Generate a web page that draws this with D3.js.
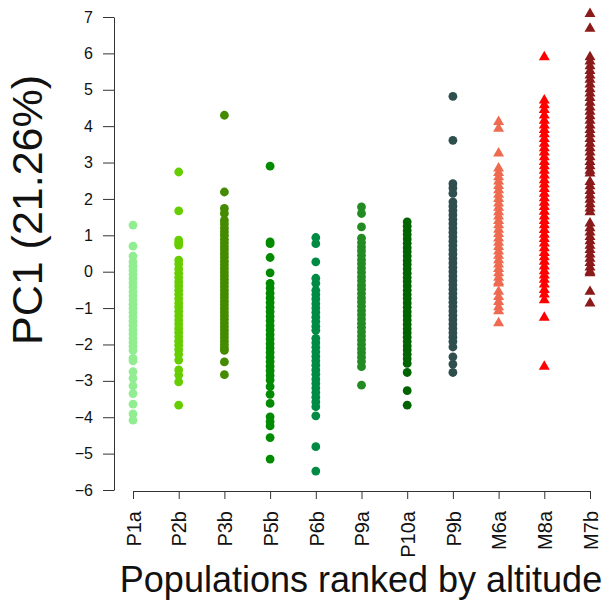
<!DOCTYPE html>
<html>
<head>
<meta charset="utf-8">
<script src="https://cdn.jsdelivr.net/npm/d3@7"></script>
<style>
  html, body { margin: 0; padding: 0; background: #fff; }
  svg { display: block; font-family: "Liberation Sans", Arial, Helvetica, sans-serif; }
</style>
</head>
<body>
<svg id="chart" width="606" height="600"></svg>
<script>
// ---- Data ----
const categories = ["P1a","P2b","P3b","P5b","P6b","P9a","P10a","P9b","M6a","M8a","M7b"];
const colors = ["#90EE90","#66CD00","#458B00","#008B00","#008B45","#228B22","#006400","#2F4F4F","#EE6A50","#FF0000","#8B1A1A"];
const shapes = ["circle","circle","circle","circle","circle","circle","circle","circle","triangle","triangle","triangle"];
const yTicks = [7,6,5,4,3,2,1,0,-1,-2,-3,-4,-5,-6];

const P1a = [1.28,0.70,0.43,0.27,0.15,0.04,-0.08,-0.19,-0.31,-0.42,-0.55,-0.66,-0.78,-0.9,-1.01,-1.12,-1.24,-1.36,-1.47,-1.6,-1.71,-1.83,-1.94,-2.05,-2.16,-2.38,-2.45,-2.75,-2.93,-3.14,-3.35,-3.64,-3.91,-4.08];
const P2b = [2.74,1.67,0.87,0.80,0.73,0.32,0.21,0.08,-0.04,-0.16,-0.28,-0.39,-0.51,-0.62,-0.74,-0.86,-0.97,-1.09,-1.21,-1.33,-1.44,-1.56,-1.67,-1.79,-1.91,-2.02,-2.14,-2.27,-2.43,-2.70,-2.84,-3.03,-3.67];
const P3b = [4.30,2.19,1.74,1.60,1.41,1.31,1.2,1.1,1.0,0.89,0.79,0.69,0.6,0.5,0.4,0.29,0.19,0.09,-0.01,-0.11,-0.21,-0.31,-0.41,-0.51,-0.61,-0.71,-0.81,-0.91,-1.01,-1.11,-1.21,-1.31,-1.41,-1.51,-1.61,-1.71,-1.81,-1.91,-2.01,-2.1,-2.16,-2.48,-2.83];
const P5b = [2.90,0.82,0.77,0.39,-0.03,-0.32,-0.45,-0.59,-0.72,-0.85,-0.98,-1.1,-1.23,-1.35,-1.48,-1.6,-1.73,-1.85,-1.98,-2.1,-2.22,-2.35,-2.47,-2.6,-2.72,-2.85,-2.98,-3.16,-3.37,-3.62,-3.99,-4.12,-4.24,-4.56,-5.15];
const P6b = [0.94,0.77,0.27,-0.18,-0.32,-0.51,-0.63,-0.75,-0.88,-1.0,-1.12,-1.25,-1.37,-1.5,-1.61,-1.83,-1.95,-2.08,-2.2,-2.33,-2.45,-2.57,-2.7,-2.82,-2.95,-3.07,-3.2,-3.32,-3.45,-3.58,-3.71,-3.96,-4.81,-5.48];
const P9a = [1.78,1.60,1.23,0.92,0.8,0.68,0.57,0.45,0.33,0.22,0.1,-0.02,-0.14,-0.25,-0.37,-0.48,-0.6,-0.72,-0.83,-0.95,-1.07,-1.18,-1.3,-1.42,-1.53,-1.65,-1.77,-1.88,-2.0,-2.12,-2.23,-2.35,-2.47,-2.61,-3.12];
const P10a = [1.37,1.25,1.13,1.02,0.9,0.78,0.66,0.55,0.43,0.31,0.2,0.08,-0.04,-0.16,-0.27,-0.39,-0.51,-0.63,-0.74,-0.86,-0.98,-1.1,-1.21,-1.33,-1.45,-1.57,-1.68,-1.8,-1.92,-2.04,-2.15,-2.27,-2.39,-2.52,-2.77,-3.27,-3.67];
const P9b = [4.82,3.61,2.42,2.30,2.15,1.92,1.8,1.68,1.56,1.44,1.32,1.2,1.08,0.96,0.84,0.72,0.6,0.48,0.36,0.24,0.12,0.0,-0.12,-0.24,-0.36,-0.48,-0.6,-0.72,-0.84,-0.96,-1.08,-1.2,-1.32,-1.44,-1.56,-1.68,-1.8,-1.92,-2.07,-2.34,-2.54,-2.77];
const M6a = [4.12,3.93,3.25,2.84,2.72,2.6,2.48,2.36,2.24,2.12,2.0,1.88,1.76,1.64,1.52,1.4,1.28,1.16,1.04,0.92,0.8,0.68,0.56,0.44,0.32,0.2,0.08,-0.04,-0.16,-0.28,-0.32,-0.55,-0.69,-0.83,-0.97,-1.08,-1.41];
const M8a = [5.90,4.71,4.58,4.45,4.30,4.15,4.02,3.9,3.78,3.65,3.52,3.4,3.28,3.15,3.02,2.9,2.78,2.65,2.52,2.4,2.28,2.15,2.02,1.9,1.78,1.65,1.52,1.4,1.28,1.15,1.02,0.9,0.78,0.65,0.52,0.4,0.28,0.15,0.02,-0.1,-0.22,-0.35,-0.5,-0.62,-0.78,-1.26,-2.61];
const M7b = [7.09,6.68,5.90,5.78,5.65,5.52,5.4,5.28,5.15,5.02,4.9,4.78,4.65,4.52,4.4,4.28,4.15,4.02,3.9,3.78,3.65,3.52,3.4,3.28,3.15,3.02,2.9,2.78,2.70,2.47,2.35,2.22,2.1,1.98,1.86,1.74,1.64,1.33,1.2,1.08,0.96,0.84,0.72,0.6,0.48,0.36,0.24,0.12,0.0,-0.04,-0.55,-0.87];
const seriesValues = [P1a,P2b,P3b,P5b,P6b,P9a,P10a,P9b,M6a,M8a,M7b];

const xTitle = "Populations ranked by altitude";
const yTitle = "PC1 (21.26%)";

// ---- Chart ----
const svg = d3.select("#chart");
const x = d3.scalePoint().domain(categories).range([133, 590]);
const y = d3.scaleLinear().domain([-6, 7]).range([490, 17]);
const axisColor = "#333";

// Y axis
const yAxis = svg.append("g")
  .attr("transform", "translate(114,0)")
  .call(d3.axisLeft(y).tickValues(yTicks).tickFormat(d3.format("d")).tickSize(11).tickSizeOuter(0).tickPadding(10));
yAxis.select(".domain").attr("stroke", axisColor);
yAxis.selectAll(".tick line").attr("stroke", axisColor);
yAxis.selectAll(".tick text").attr("fill", "#111").style("font-size", "16px")
  .style("font-family", "'Liberation Sans', Arial, sans-serif");

// X axis
const xAxis = svg.append("g")
  .attr("transform", "translate(0,491)")
  .call(d3.axisBottom(x).tickSize(8).tickSizeOuter(0));
xAxis.select(".domain").attr("stroke", axisColor);
xAxis.selectAll(".tick line").attr("stroke", axisColor);
xAxis.selectAll(".tick text")
  .attr("transform", "rotate(-90)")
  .attr("x", -20).attr("y", 0).attr("dy", "0.36em")
  .attr("text-anchor", "end")
  .attr("fill", "#111")
  .style("font-size", "20px")
  .style("font-family", "'Liberation Sans', Arial, sans-serif");

// Points
const tri = d3.symbol().type(d3.symbolTriangle).size(52);
categories.forEach((cat, i) => {
  const vals = seriesValues[i];
  const g = svg.append("g").attr("class", "series-" + cat);
  if (shapes[i] === "circle") {
    g.selectAll("circle").data(vals).join("circle")
      .attr("cx", x(cat)).attr("cy", d => y(d)).attr("r", 4.4)
      .attr("fill", colors[i]);
  } else {
    g.selectAll("path").data(vals).join("path")
      .attr("d", tri)
      .attr("transform", d => `translate(${x(cat)},${y(d)})`)
      .attr("fill", colors[i]);
  }
});

// Titles
svg.append("text")
  .attr("x", 361).attr("y", 592)
  .attr("text-anchor", "middle")
  .style("font-size", "36px").attr("fill", "#111")
  .text(xTitle);

svg.append("text")
  .attr("transform", "translate(42,210) rotate(-90)")
  .attr("text-anchor", "middle")
  .style("font-size", "43px").attr("fill", "#111")
  .text(yTitle);
</script>
</body>
</html>
